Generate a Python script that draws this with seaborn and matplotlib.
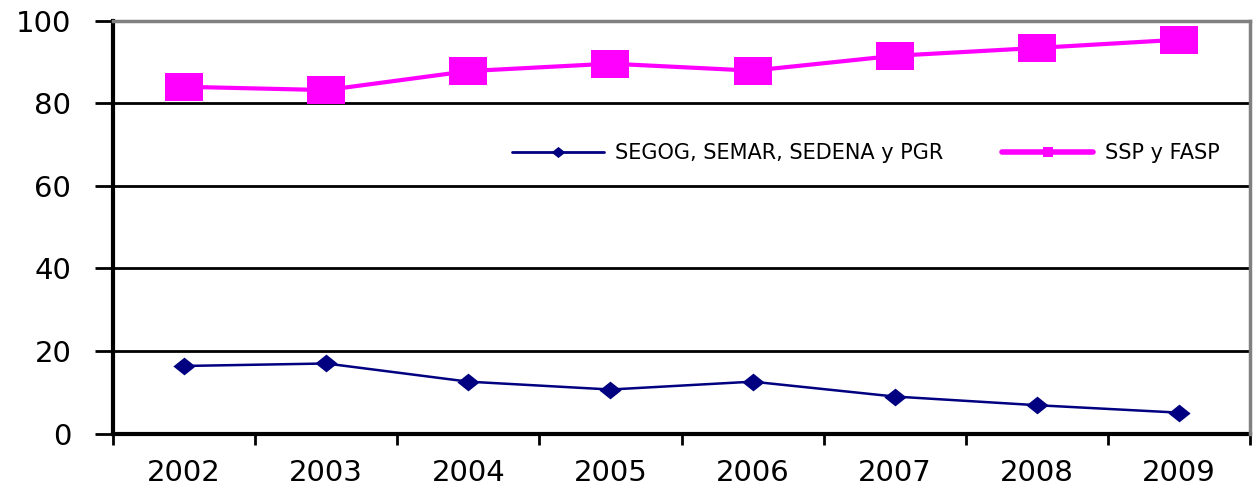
import matplotlib
matplotlib.use("Agg")
import matplotlib.pyplot as plt
import seaborn as sns
import pandas as pd
from matplotlib.lines import Line2D

years = ["2002", "2003", "2004", "2005", "2006", "2007", "2008", "2009"]
segog = [16.4, 17.0, 12.6, 10.7, 12.6, 9.0, 6.9, 5.1]
ssp = [84.0, 83.2, 87.8, 89.6, 87.9, 91.5, 93.4, 95.4]
series_names = ["SEGOG, SEMAR, SEDENA y PGR", "SSP y FASP"]
yticks = [0, 20, 40, 60, 80, 100]

sns.set_theme(style="white")
plt.rcParams["font.family"] = ["DejaVu Sans"]

df = pd.DataFrame({
    "year": years * 2,
    "value": segog + ssp,
    "serie": [series_names[0]] * len(years) + [series_names[1]] * len(years),
})

fig = plt.figure(figsize=(12.57, 4.88), dpi=100)
ax = fig.add_axes([113 / 1257, (488 - 433.7) / 488, (1250 - 113) / 1257, (433.7 - 20.7) / 488])

navy = "#000080"
magenta = "#FF00FF"
diamond = [(0, 0.8), (1, 0), (0, -0.8), (-1, 0)]
rect = [(-1.35, -1), (1.35, -1), (1.35, 1), (-1.35, 1)]

d0 = df[df["serie"] == series_names[0]]
d1 = df[df["serie"] == series_names[1]]
sns.lineplot(data=d0, x="year", y="value", ax=ax, color=navy, linewidth=1.8,
             marker=diamond, markersize=16, markeredgewidth=0, legend=False, zorder=5)
sns.lineplot(data=d1, x="year", y="value", ax=ax, color=magenta, linewidth=3.0,
             marker=rect, markersize=27, markeredgewidth=0, legend=False, zorder=5)

ax.set_xlim(-0.5, len(years) - 0.5)
ax.set_ylim(0, 100)
ax.set_xlabel("")
ax.set_ylabel("")

ax.set_xticks(range(len(years)))
ax.set_xticklabels(years, fontsize=21)
ax.set_xticks([i - 0.5 for i in range(len(years) + 1)], minor=True)
ax.tick_params(axis="x", which="major", length=0, pad=18, colors="black")
ax.tick_params(axis="x", which="minor", length=8, width=2, direction="out", colors="black", bottom=True)

ax.set_yticks(yticks)
ax.set_yticklabels([str(v) for v in yticks], fontsize=21)
ax.tick_params(axis="y", which="major", length=13, width=2, direction="out", pad=17, colors="black", left=True)

ax.yaxis.grid(True, color="black", linewidth=2)
ax.set_axisbelow(True)

for side in ["left", "bottom"]:
    ax.spines[side].set_color("black")
    ax.spines[side].set_linewidth(3)
for side in ["top", "right"]:
    ax.spines[side].set_color("#808080")
    ax.spines[side].set_linewidth(2.5)
    ax.spines[side].set_zorder(3)

handles = [
    Line2D([], [], color=navy, linewidth=2, marker=diamond, markersize=10, markeredgewidth=0),
    Line2D([], [], color=magenta, linewidth=4, marker="s", markersize=7, markeredgewidth=0),
]
leg = fig.legend(handles, series_names, loc="center left",
                 bbox_to_anchor=(512 / 1257, 1 - 153 / 488), ncol=2, frameon=False,
                 fontsize=15, handlelength=4.4, handletextpad=0.55, columnspacing=2.8,
                 borderpad=0, borderaxespad=0, labelcolor="black")

fig.savefig("out.png", dpi=100, facecolor="white")
